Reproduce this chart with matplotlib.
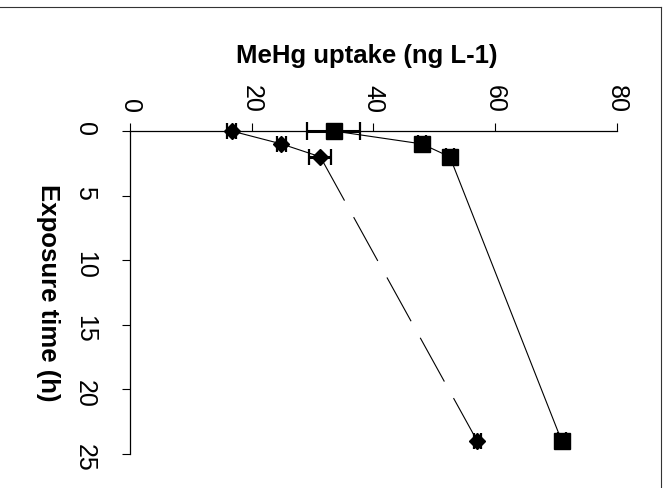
import matplotlib
matplotlib.use('Agg')
import matplotlib.pyplot as plt
from matplotlib.lines import Line2D

plt.rcParams['font.family'] = ['Liberation Sans', 'DejaVu Sans']

# exposure times (h) and MeHg uptake (ng L-1) for the two treatments
time_h = [0, 1, 2, 24]
uptake_sq = [33.5, 48.0, 52.6, 71.0]
err_sq = [4.4, 0.7, 0.7, 0.7]
uptake_dm = [16.7, 24.9, 31.3, 57.1]
err_dm = [0.8, 0.8, 1.8, 0.6]

x_ticks = [0, 20, 40, 60, 80]
y_ticks = [0, 5, 10, 15, 20, 25]

W, H = 668, 488
fig = plt.figure(figsize=(W / 100, H / 100), dpi=100)
ax = fig.add_axes([130 / W, 1 - 454 / H, (616.5 - 130) / W, (454 - 131) / H])

# square series, thin solid line
ax.plot(uptake_sq, time_h, color='k', lw=0.8, zorder=2, clip_on=False)
ax.errorbar(uptake_sq, time_h, xerr=err_sq, fmt='none', ecolor='k',
            elinewidth=2.2, capsize=6.5, capthick=1.6, zorder=3, clip_on=False)
ax.plot(uptake_sq, time_h, 's', color='k', ms=11.5, zorder=4, clip_on=False)

# diamond series, long-dash line restarting at each point
for i in range(len(time_h) - 1):
    ax.plot(uptake_dm[i:i + 2], time_h[i:i + 2], color='k', lw=0.8,
            linestyle=(0, (45, 17)), zorder=2, clip_on=False)
ax.errorbar(uptake_dm, time_h, xerr=err_dm, fmt='none', ecolor='k',
            elinewidth=2.2, capsize=6, capthick=1.6, zorder=3, clip_on=False)
ax.plot(uptake_dm, time_h, 'D', color='k', ms=8.5, zorder=4, clip_on=False)

ax.set_xlim(0, 80)
ax.set_ylim(25, 0)
ax.xaxis.tick_top()
ax.set_xticks(x_ticks)
ax.set_yticks(y_ticks)
ax.set_xticklabels([str(v) for v in x_ticks], rotation=270, fontsize=18)
ax.set_yticklabels([str(v) for v in y_ticks], rotation=270, fontsize=18)
ax.tick_params(axis='x', direction='out', length=6, width=0.8, pad=7)
ax.tick_params(axis='y', direction='out', length=6, width=0.8, pad=18)

for side in ['right', 'bottom']:
    ax.spines[side].set_visible(False)
for side in ['top', 'left']:
    ax.spines[side].set_linewidth(0.9)

ax.xaxis.set_label_position('top')
ax.set_xlabel('MeHg uptake (ng L-1)', fontsize=18.5, fontweight='bold')
ax.xaxis.set_label_coords(0.486, 1.232)
ax.set_ylabel('Exposure time (h)', fontsize=18.5, fontweight='bold', rotation=270)
ax.yaxis.set_label_coords(-0.169, 0.5)
ax.yaxis.label.set_va('center')
ax.xaxis.label.set_va('center')

# frame lines along the top and right of the page
fig.add_artist(Line2D([0, 661 / W], [1 - 7 / H, 1 - 7 / H], color='#333333', lw=0.8))
fig.add_artist(Line2D([661 / W, 661 / W], [0, 1 - 7 / H], color='#333333', lw=0.8))

fig.savefig('out.png', dpi=100)
